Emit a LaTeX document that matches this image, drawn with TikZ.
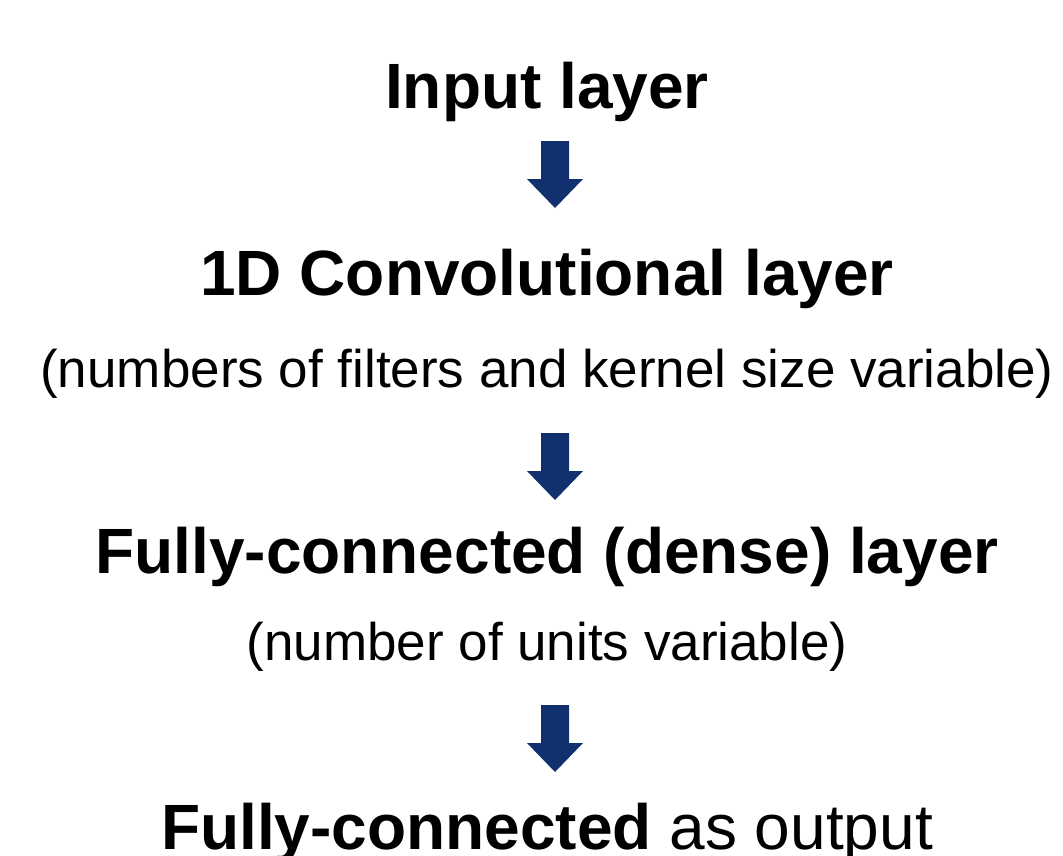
\documentclass[tikz,border=0pt]{standalone}
\usepackage{fontspec}
\setmainfont{Liberation Sans}
\definecolor{arrowblue}{RGB}{16,49,110}
\tikzset{
  layer/.style={anchor=base, inner sep=0pt, font=\fontsize{64}{64}\selectfont\bfseries},
  note/.style={anchor=base, inner sep=0pt, font=\fontsize{53}{53}\selectfont},
}
% block arrow pointing down, top centre at #1
\newcommand{\downblock}[1]{%
  \fill[arrowblue] (#1) ++(-14,0) -- ++(28,0) -- ++(0,38) -- ++(14,0)
    -- ++(-28,29) -- ++(-28,-29) -- ++(14,0) -- cycle;}
\begin{document}
\begin{tikzpicture}[x=1pt,y=-1pt]
\useasboundingbox (0,0) rectangle (1063,855);

\node[layer] (input) at (547,108) {Input layer};
\node[layer] (conv) at (547,295) {1D Convolutional layer};
\node[note] (convnote) at (547,387) {(numbers of filters and kernel size variable)};
\node[layer] (dense) at (547,573) {Fully-connected (dense) layer};
\node[note] (densenote) at (547,660) {(number of units variable)};
\node[layer] (output) at (547,849)
  {Fully-connected {\mdseries as output}};

% arrows between the layers
\coordinate (a1) at (555,141);
\coordinate (a2) at (555,433);
\coordinate (a3) at (555,705);
\downblock{a1}
\downblock{a2}
\downblock{a3}

\end{tikzpicture}
\end{document}
